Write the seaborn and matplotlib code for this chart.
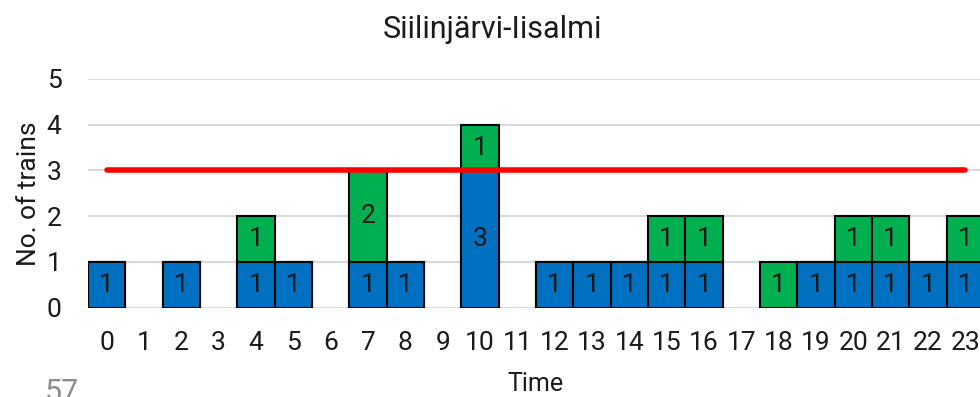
import numpy as np
import pandas as pd
import matplotlib
matplotlib.use("Agg")
import matplotlib.pyplot as plt
import seaborn as sns

# Trains per hour on the Siilinjärvi-Iisalmi section
hours = list(range(24))
blue_trains = [1, 0, 1, 0, 1, 1, 0, 1, 1, 0, 3, 0, 1, 1, 1, 1, 1, 0, 0, 1, 1, 1, 1, 1]
green_trains = [0, 0, 0, 0, 1, 0, 0, 2, 0, 0, 1, 0, 0, 0, 0, 1, 1, 0, 1, 0, 1, 1, 0, 1]
capacity = 3
y_ticks = [0, 1, 2, 3, 4, 5]

BLUE = "#0070C0"
GREEN = "#00B050"
RED = "#FF0000"
GRID = "#D9D9D9"
TEXT = "#1a1a1a"

sns.set_theme(style="white")
plt.rcParams["font.family"] = ["Roboto", "DejaVu Sans"]

df = pd.DataFrame({
    "hour": [str(h) for h in hours],
    "blue": blue_trains,
    "green": green_trains,
})
df["total"] = df["blue"] + df["green"]
order = [str(h) for h in hours]

fig = plt.figure(figsize=(9.8, 3.97), dpi=100)
ax = fig.add_axes([88 / 980, 89.3 / 397, 896 / 980, 228.7 / 397])

# Stacked bars: full height in green, blue part drawn over the bottom
sns.barplot(data=df[df["total"] > 0], x="hour", y="total", order=order,
            color=GREEN, saturation=1, width=1.0, edgecolor="black",
            linewidth=1.5, ax=ax, zorder=3)
sns.barplot(data=df[df["blue"] > 0], x="hour", y="blue", order=order,
            color=BLUE, saturation=1, width=1.0, edgecolor="black",
            linewidth=1.5, ax=ax, zorder=4)

# Value labels
for i, (b, g) in enumerate(zip(blue_trains, green_trains)):
    if b > 0:
        ax.text(i, b / 2, str(b), ha="center", va="center", fontsize=19,
                color=TEXT, zorder=6)
    if g > 0:
        ax.text(i, b + g / 2, str(g), ha="center", va="center", fontsize=19,
                color=TEXT, zorder=6)

# Capacity line
sns.lineplot(x=np.arange(len(hours)), y=np.full(len(hours), capacity),
             color=RED, linewidth=4, ax=ax, zorder=5)
for line in ax.lines:
    line.set_solid_capstyle("round")

ax.set_xlim(-0.5, len(hours) - 0.5)
ax.set_ylim(0, 5)
ax.set_yticks(y_ticks)
ax.set_yticklabels([str(t) for t in y_ticks])
ax.set_xticks(range(len(hours)))
ax.set_xticklabels([str(h) for h in hours])
ax.yaxis.grid(True, color=GRID, linewidth=1.5, zorder=0)
ax.set_axisbelow(True)
for s in ax.spines.values():
    s.set_visible(False)
ax.tick_params(axis="y", length=0, pad=19, labelsize=19, labelcolor=TEXT)
ax.tick_params(axis="x", length=0, pad=17, labelsize=19, labelcolor=TEXT)

ax.set_xlabel("Time", fontsize=18, color=TEXT)
ax.xaxis.set_label_coords(0.5, -0.28)
ax.set_ylabel("No. of trains", fontsize=19, color=TEXT)
ax.yaxis.set_label_coords(-0.053, 0.5)

fig.text(492 / 980, 1 - 30 / 397, "Siilinjärvi-Iisalmi", ha="center",
         va="center", fontsize=22, color=TEXT)
fig.text(45 / 980, 1 - 378 / 397, "57", ha="left", va="top", fontsize=22,
         color="#8c8c8c")

fig.savefig("out.png", dpi=100)
